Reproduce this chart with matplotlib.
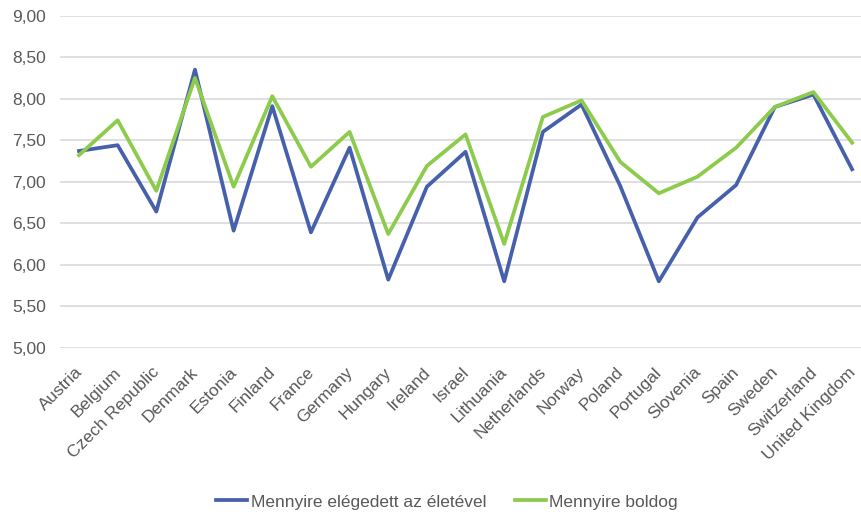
import matplotlib.pyplot as plt
import matplotlib.transforms as mtransforms
from matplotlib.ticker import FuncFormatter

orszagok = ['Austria', 'Belgium', 'Czech Republic', 'Denmark', 'Estonia', 'Finland',
            'France', 'Germany', 'Hungary', 'Ireland', 'Israel', 'Lithuania',
            'Netherlands', 'Norway', 'Poland', 'Portugal', 'Slovenia', 'Spain',
            'Sweden', 'Switzerland', 'United Kingdom']
elegedett = [7.37, 7.44, 6.64, 8.35, 6.41, 7.91, 6.39, 7.41, 5.82, 6.94, 7.36,
             5.80, 7.60, 7.93, 6.95, 5.80, 6.57, 6.96, 7.90, 8.05, 7.15]
boldog = [7.32, 7.74, 6.89, 8.25, 6.94, 8.03, 7.18, 7.60, 6.37, 7.19, 7.57,
          6.25, 7.78, 7.98, 7.24, 6.86, 7.06, 7.41, 7.90, 8.08, 7.47]

plt.rcParams['font.family'] = ['Liberation Sans', 'DejaVu Sans']
szurke = '#595959'

fig = plt.figure(figsize=(8.61, 5.14), dpi=100)
ax = fig.add_axes([0.0693, 0.3235, 0.9307, 0.646])

x = list(range(len(orszagok)))
ax.plot(x, elegedett, color='#4660AB', lw=2.7, label='Mennyire elégedett az életével')
ax.plot(x, boldog, color='#8CCB4B', lw=2.7, label='Mennyire boldog')

ax.set_ylim(5, 9)
ax.set_xlim(-0.5, 20.23)
ax.set_yticks([5 + 0.5 * i for i in range(9)])
ax.yaxis.set_major_formatter(FuncFormatter(lambda v, p: f'{v:.2f}'.replace('.', ',')))
ax.grid(axis='y', color='#D9D9D9', lw=1.2)
ax.set_axisbelow(True)
for s in ax.spines.values():
    s.set_visible(False)
ax.tick_params(length=0, colors=szurke, labelsize=12.5)
ax.tick_params(axis='y', pad=10)

ax.set_xticks(x)
ax.set_xticklabels(orszagok, rotation=45, ha='right')
eltol = mtransforms.ScaledTranslation(0.06, -0.12, fig.dpi_scale_trans)
for t in ax.get_xticklabels():
    t.set_transform(t.get_transform() + eltol)

leg = fig.legend(loc='center', bbox_to_anchor=(447 / 861, 1 - 502 / 514), ncol=2,
                 frameon=False, fontsize=12.5, handlelength=1.8, handletextpad=0.2,
                 columnspacing=1.65)
for t in leg.get_texts():
    t.set_color(szurke)

fig.savefig('out.png', dpi=100)
